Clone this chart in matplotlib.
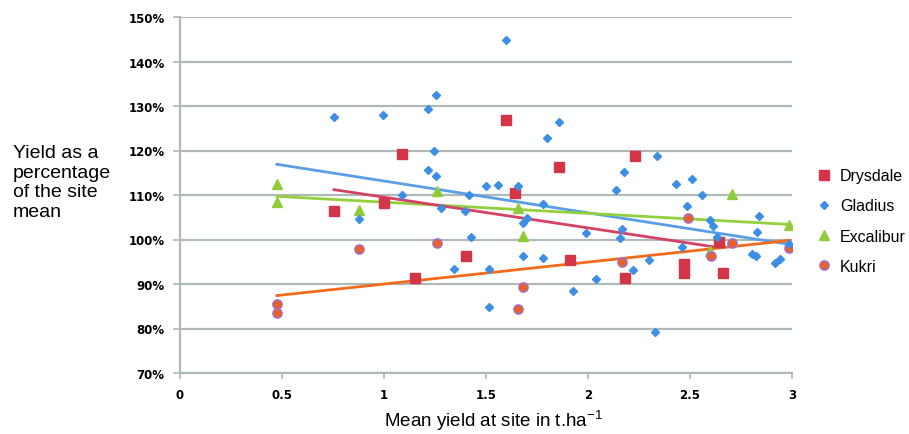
import matplotlib
matplotlib.use('Agg')
import matplotlib.pyplot as plt
import numpy as np

plt.rcParams['font.family'] = ['Liberation Sans', 'DejaVu Sans']
plt.rcParams['mathtext.default'] = 'regular'

# values
drys_x = [0.755, 1.0, 1.09, 1.15, 1.40, 1.60, 1.64, 1.86, 1.91, 2.18, 2.23, 2.47, 2.47, 2.64, 2.66]
drys_y = [106.5, 108.1, 119.3, 91.4, 96.4, 126.8, 110.5, 116.2, 95.5, 91.4, 118.7, 94.4, 92.4, 99.4, 92.5]

glad_x = [0.757, 0.877, 0.997, 1.087, 1.217, 1.217, 1.247, 1.257, 1.257, 1.278,
          1.345, 1.397, 1.417, 1.428, 1.498, 1.516, 1.516, 1.557, 1.598, 1.658,
          1.68, 1.68, 1.70, 1.778, 1.778, 1.797, 1.858, 1.928, 1.989, 2.037,
          2.137, 2.158, 2.168, 2.176, 2.219, 2.30, 2.328, 2.34, 2.43, 2.459,
          2.487, 2.508, 2.557, 2.598, 2.611, 2.634, 2.802, 2.824, 2.828, 2.84,
          2.917, 2.941, 2.985]
glad_y = [127.6, 104.6, 127.9, 110.1, 129.4, 115.6, 120.0, 132.4, 114.2, 107.0,
          93.3, 106.5, 109.9, 100.6, 112.0, 93.3, 84.9, 112.2, 144.9, 112.1,
          103.6, 96.3, 104.8, 107.9, 95.9, 122.8, 126.3, 88.5, 101.4, 91.2,
          111.2, 100.3, 102.4, 115.1, 93.1, 95.5, 79.3, 118.7, 112.4, 98.4,
          107.6, 113.5, 110.1, 104.4, 103.0, 100.6, 96.8, 96.3, 101.6, 105.3,
          94.8, 95.7, 98.9]

exc_x = [0.474, 0.474, 0.877, 1.258, 1.658, 1.68, 2.598, 2.704, 2.985]
exc_y = [112.4, 108.4, 106.7, 110.9, 107.1, 100.8, 97.5, 110.3, 103.2]

kuk_x = [0.477, 0.477, 0.877, 1.258, 1.658, 1.683, 2.169, 2.492, 2.603, 2.704, 2.985]
kuk_y = [85.4, 83.4, 97.8, 99.2, 84.3, 89.3, 94.9, 104.9, 96.3, 99.2, 98.0]

# linear trend lines: (x start, y start, x end, y end)
drys_trend = [0.755, 111.2, 2.61, 98.4]
glad_trend = [0.475, 116.9, 2.99, 98.9]
exc_trend = [0.475, 109.7, 2.985, 103.4]
kuk_trend = [0.475, 87.4, 2.99, 99.8]

x_ticks = [0, 0.5, 1, 1.5, 2, 2.5, 3]
x_labels = ['0', '0.5', '1', '1.5', '2', '2.5', '3']
y_ticks = [70, 80, 90, 100, 110, 120, 130, 140, 150]

fig = plt.figure(figsize=(9.09, 4.35), dpi=100)
ax = fig.add_axes([180 / 909, 1 - 374 / 435, 612 / 909, 356 / 435])

grid_col = '#b0b8b8'
for yv in y_ticks:
    ax.axhline(yv, color=grid_col, lw=1.6, zorder=0)

# trend lines
ax.plot(glad_trend[::2], glad_trend[1::2], color='#5a9ee6', lw=2, zorder=2)
ax.plot(exc_trend[::2], exc_trend[1::2], color='#93d03e', lw=2, zorder=2)
ax.plot(drys_trend[::2], drys_trend[1::2], color='#d44265', lw=2, zorder=2)
ax.plot(kuk_trend[::2], kuk_trend[1::2], color='#f26b1d', lw=2, zorder=2)

ax.plot(drys_x, drys_y, 's', color='#d43648', ms=6.5, mec='#d43648', label='Drysdale', zorder=3)
ax.plot(glad_x, glad_y, 'D', color='#3d8fe3', ms=4.3, mec='#3d8fe3', label='Gladius', zorder=4)
ax.plot(exc_x, exc_y, '^', color='#90cc3a', ms=6.5, mec='#90cc3a', label='Excalibur', zorder=3)
ax.plot(kuk_x, kuk_y, 'o', color='#f05f1e', ms=6.5, mec='#a070c8', mew=1.2, label='Kukri', zorder=3)

ax.set_xlim(0, 3)
ax.set_ylim(70, 150)
ax.set_xticks(x_ticks)
ax.set_xticklabels(x_labels)
ax.set_yticks(y_ticks)
ax.set_yticklabels([f'{v}%' for v in y_ticks])
for lab in ax.get_xticklabels() + ax.get_yticklabels():
    lab.set_fontfamily('DejaVu Sans')
    lab.set_fontweight('bold')
    lab.set_fontsize(8.5)
ax.tick_params(axis='y', length=5, width=1.2, color=grid_col, pad=6)
ax.tick_params(axis='x', length=4, width=1.2, color=grid_col, pad=7)

for s in ['top', 'right']:
    ax.spines[s].set_visible(False)
ax.spines['left'].set_color(grid_col)
ax.spines['left'].set_linewidth(1.6)
ax.spines['bottom'].set_color(grid_col)
ax.spines['bottom'].set_linewidth(1.6)

fig.text(13 / 909, 1 - 183 / 435, 'Yield as a\npercentage\nof the site\nmean',
         fontsize=14, ha='left', va='center', linespacing=1.2)
fig.text(493 / 909, 1 - 427 / 435, 'Mean yield at site in t.ha$^{-1}$',
         fontsize=13.5, ha='center', va='baseline')

ax.legend(loc='center left', bbox_to_anchor=(800 / 909, 1 - 222 / 435),
          bbox_transform=fig.transFigure, frameon=False, fontsize=11.5,
          handletextpad=0.4, labelspacing=0.95, handlelength=1.2)

fig.savefig('out.png', dpi=100)
